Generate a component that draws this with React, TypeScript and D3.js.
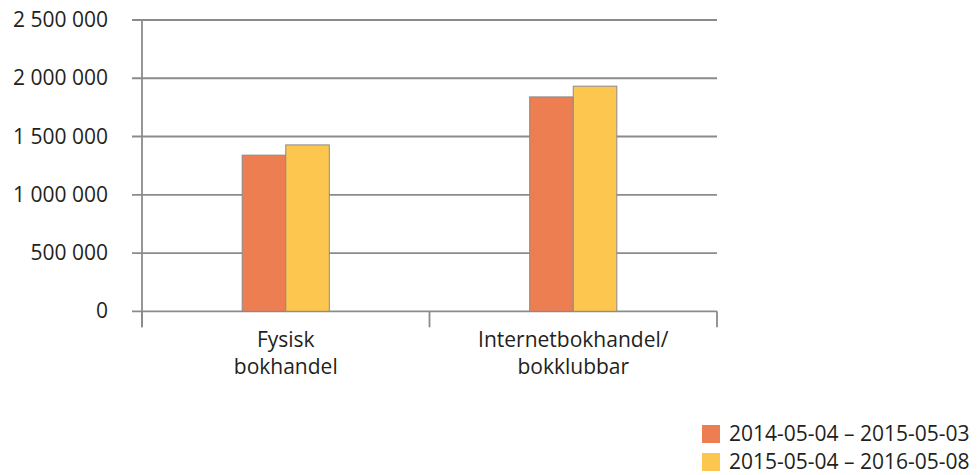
import React from "react";
import * as d3 from "d3";

const categories: string[][] = [["Fysisk", "bokhandel"], ["Internetbokhandel/", "bokklubbar"]];
const seriesNames = ["2014-05-04 – 2015-05-03", "2015-05-04 – 2016-05-08"];
const series1 = [1340000, 1840000];
const series2 = [1428000, 1932000];
const yTicks = [0, 500000, 1000000, 1500000, 2000000, 2500000];
const colors = ["#EC7E52", "#FDC64F"];

const W = 978, H = 475;
const left = 142, right = 717, top = 20, bottom = 311.3;
const font = "'Open Sans', sans-serif";
const textColor = "#231F20";
const gridColor = "#8A8B8D";

export default function App() {
  const y = d3.scaleLinear().domain([0, 2500000]).range([bottom, top]);
  const x0 = d3.scaleBand<number>().domain(categories.map((_, i) => i)).range([left, right]).paddingInner(0).paddingOuter(0);
  const x1 = d3.scaleBand<number>().domain([0, 1]).range([0, x0.bandwidth()]).paddingInner(0).paddingOuter(2.3);
  const fmt = (v: number) => d3.format(",")(v).replace(/,/g, " ");
  const data = [series1, series2];
  return (
    <svg width={W} height={H} style={{ position: "absolute", left: 0, top: 0 }}>
      <rect width={W} height={H} fill="#fff" />
      {yTicks.map((t) => (
        <g key={t}>
          <line x1={left - 10} x2={right} y1={y(t)} y2={y(t)} stroke={gridColor} strokeWidth={1.8} />
          <text x={108} y={y(t) + 7} textAnchor="end" fontFamily={font} fontSize={21} fill={textColor}>{fmt(t)}</text>
        </g>
      ))}
      <line x1={left} x2={left} y1={top} y2={bottom + 16} stroke={gridColor} strokeWidth={1.8} />
      {categories.map((c, i) => (
        <g key={i}>
          {data.map((s, j) => (
            <rect key={j} x={(x0(i) as number) + (x1(j) as number)} y={y(s[i])} width={x1.bandwidth()} height={bottom - y(s[i])}
              fill={colors[j]} stroke="#8A8A8A" strokeWidth={1} />
          ))}
        </g>
      ))}
      {[...categories.map((_, i) => x0(i) as number), right].map((xv, i) => (
        <line key={i} x1={xv} x2={xv} y1={bottom} y2={bottom + 16} stroke={gridColor} strokeWidth={1.8} />
      ))}
      {categories.map((c, i) => (
        <text key={i} textAnchor="middle" fontFamily={font} fontSize={21} fill={textColor}>
          {c.map((line, k) => (
            <tspan key={k} x={(x0(i) as number) + x0.bandwidth() / 2} y={347 + k * 27}>{line}</tspan>
          ))}
        </text>
      ))}
      {seriesNames.map((n, j) => (
        <g key={j}>
          <rect x={702} y={425 + j * 28} width={18} height={18} fill={colors[j]} />
          <text x={729} y={441 + j * 28} fontFamily={font} fontSize={21} fill={textColor}>{n}</text>
        </g>
      ))}
    </svg>
  );
}
